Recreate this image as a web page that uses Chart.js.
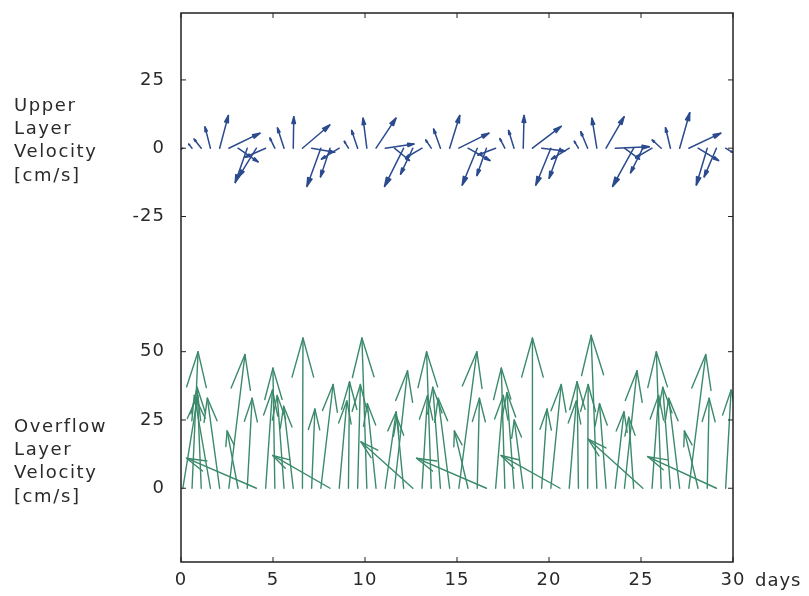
<!DOCTYPE html>
<html>
<head>
<meta charset="utf-8">
<script src="https://cdn.jsdelivr.net/npm/chart.js@4.4.0/dist/chart.umd.min.js"></script>
<style>
  html, body { margin: 0; padding: 0; background: #fff; }
</style>
</head>
<body>
<canvas id="myChart" width="809" height="596"></canvas>
<script>
// sample times (days), one every half day
var days = [
  0.1, 0.6, 1.1, 1.6, 2.1, 2.6, 3.1, 3.6, 4.1, 4.6,
  5.1, 5.6, 6.1, 6.6, 7.1, 7.6, 8.1, 8.6, 9.1, 9.6,
  10.1, 10.6, 11.1, 11.6, 12.1, 12.6, 13.1, 13.6, 14.1, 14.6,
  15.1, 15.6, 16.1, 16.6, 17.1, 17.6, 18.1, 18.6, 19.1, 19.6,
  20.1, 20.6, 21.1, 21.6, 22.1, 22.6, 23.1, 23.6, 24.1, 24.6,
  25.1, 25.6, 26.1, 26.6, 27.1, 27.6, 28.1, 28.6, 29.1, 29.6
];

// upper layer velocity components, cm/s
var upperU = [
  -2.5, -1.2, -2.6, -2.0, 3.2, 11.4, 7.3, -4.4, -6.5, -7.5,
  -1.8, -2.4, 0.2, 10.0, 8.4, -5.1, -3.5, -6.5, -1.5, -2.2,
  -1.4, 7.3, 10.5, 5.5, -7.0, -4.5, -6.0, -2.0, -2.5, 3.7,
  11.0, 8.0, -5.5, -3.5, -6.5, -1.8, -2.0, 0.3, 10.5, 8.5,
  -5.5, -4.0, -6.5, -1.5, -2.5, -1.8, 6.6, 12.5, 5.5, -7.7,
  -4.5, -6.0, -3.3, -1.8, 3.7, 11.7, 7.5, -4.0, -4.5, 2.5
];
var upperV = [
  -1.5, 1.5, 3.3, 7.8, 12.0, 5.5, -5.0, -12.6, -10.5, -3.3,
  3.7, 7.4, 11.5, 8.5, -1.5, -14.0, -10.5, -4.0, 2.5, 6.5,
  11.0, 11.0, 1.5, -4.5, -14.0, -9.5, -3.5, 3.0, 7.0, 12.0,
  5.5, -4.5, -13.5, -10.0, -2.5, 3.5, 6.5, 12.0, 8.0, -1.0,
  -13.5, -11.0, -4.0, 2.5, 6.0, 11.0, 11.5, 0.5, -4.0, -14.0,
  -9.0, -3.5, 3.0, 7.5, 13.0, 5.5, -4.5, -13.5, -10.5, -1.5
];

// overflow layer velocity components, cm/s
var lowerU = [
  5.5, 2.2, -1.5, -5.9, -4.5, 5.9, -4.0, 1.8, -25.6, 2.5,
  -0.7, -2.5, -3.5, 0.2, 1.2, 4.5, -21.0, 2.8, 0.4, 1.0,
  -1.8, -3.2, 4.0, 4.8, -2.5, -19.0, 2.0, -1.7, -2.8, -4.2,
  6.6, -5.0, 0.8, -25.6, 2.8, -1.3, -2.6, -3.3, 0.0, 2.0,
  3.8, -21.6, 2.6, -0.5, 0.2, -2.1, -2.4, 3.2, 4.6, -1.8,
  -20.0, 2.4, -1.8, -2.8, -4.0, 6.2, -5.0, 0.7, -25.2, 2.0
];
var lowerV = [
  34, 50, 37, 34, 33, 49, 21, 33, 11, 36,
  44, 34, 30, 55, 29, 38, 12, 32, 39, 38,
  55, 31, 28, 43, 26, 17, 34, 50, 37, 33,
  50, 21, 33, 11, 34, 44, 35, 25, 55, 29,
  38, 12, 32, 39, 38, 56, 31, 28, 43, 26,
  18, 34, 50, 37, 33, 49, 21, 33, 11.6, 36
];

var xTicks = [0, 5, 10, 15, 20, 25, 30];
var lowerTicks = [0, 25, 50];
var upperTicks = [-25, 0, 25];
var upperTitle = ["Upper", "Layer", "Velocity", "[cm/s]"];
var lowerTitle = ["Overflow", "Layer", "Velocity", "[cm/s]"];
var xUnit = "days";

// the upper panel's zero sits this far up the shared y axis
var UPPER_ZERO = 124.5;

var textColor = "#2a2a2a";
var font = "DejaVu Sans";

function basePoints(zero) {
  return days.map(function (t) { return { x: t, y: zero }; });
}

var stickPlugin = {
  id: "sticks",
  beforeDraw: function (chart) {
    chart.ctx.letterSpacing = "1px";
  },
  afterDatasetsDraw: function (chart) {
    var ctx = chart.ctx, xs = chart.scales.x, ys = chart.scales.y, area = chart.chartArea;
    var unitPx = Math.abs(ys.getPixelForValue(1) - ys.getPixelForValue(0));
    ctx.save();
    ctx.beginPath();
    ctx.rect(area.left, area.top, area.right - area.left, area.bottom - area.top);
    ctx.clip();
    chart.data.datasets.forEach(function (ds) {
      ctx.strokeStyle = ds.stickColor;
      ctx.fillStyle = ds.stickColor;
      ctx.lineWidth = ds.stickWidth;
      ctx.lineCap = "round";
      ctx.lineJoin = "round";
      ds.data.forEach(function (p, i) {
        var bx = xs.getPixelForValue(p.x);
        var by = ys.getPixelForValue(p.y);
        var tx = bx + ds.u[i] * unitPx;
        var ty = ys.getPixelForValue(p.y + ds.v[i]);
        var len = Math.hypot(tx - bx, ty - by);
        var a = Math.atan2(ty - by, tx - bx);
        var h = len * ds.headFrac, th = ds.headAngle;
        ctx.beginPath();
        ctx.moveTo(bx, by);
        ctx.lineTo(tx, ty);
        ctx.stroke();
        ctx.beginPath();
        ctx.moveTo(tx - h * Math.cos(a - th), ty - h * Math.sin(a - th));
        ctx.lineTo(tx, ty);
        ctx.lineTo(tx - h * Math.cos(a + th), ty - h * Math.sin(a + th));
        if (ds.fillHead) { ctx.closePath(); ctx.fill(); }
        ctx.stroke();
      });
    });
    ctx.restore();
  },
  afterDraw: function (chart) {
    var ctx = chart.ctx, xs = chart.scales.x, ys = chart.scales.y, area = chart.chartArea;
    ctx.save();
    ctx.strokeStyle = "#222";
    ctx.lineWidth = 1.5;
    ctx.strokeRect(area.left, area.top, area.right - area.left, area.bottom - area.top);
    ctx.lineWidth = 1;
    ctx.beginPath();
    xTicks.forEach(function (t) {
      var px = xs.getPixelForValue(t);
      ctx.moveTo(px, area.bottom); ctx.lineTo(px, area.bottom - 5);
      ctx.moveTo(px, area.top); ctx.lineTo(px, area.top + 5);
    });
    ys.ticks.forEach(function (tk) {
      var py = ys.getPixelForValue(tk.value);
      ctx.moveTo(area.left, py); ctx.lineTo(area.left + 5, py);
      ctx.moveTo(area.right, py); ctx.lineTo(area.right - 5, py);
    });
    ctx.stroke();

    ctx.fillStyle = textColor;
    ctx.font = "18px '" + font + "'";
    ctx.letterSpacing = "1.6px";
    ctx.textBaseline = "middle";
    ctx.textAlign = "left";
    upperTitle.forEach(function (s, i) { ctx.fillText(s, 14, 106 + i * 23.3); });
    lowerTitle.forEach(function (s, i) { ctx.fillText(s, 14, 427 + i * 23.3); });
    ctx.letterSpacing = "1px";
    ctx.fillText(xUnit, xs.getPixelForValue(30) + 22, 581);
    ctx.restore();
  }
};

new Chart("myChart", {
  type: "scatter",
  data: {
    datasets: [
      {
        label: "Upper Layer Velocity",
        data: basePoints(UPPER_ZERO),
        u: upperU, v: upperV,
        stickColor: "#2b4b8e", stickWidth: 1.5,
        headFrac: 0.22, headAngle: 0.26, fillHead: true,
        pointRadius: 0, showLine: false
      },
      {
        label: "Overflow Layer Velocity",
        data: basePoints(0),
        u: lowerU, v: lowerV,
        stickColor: "#3b8a6c", stickWidth: 1.4,
        headFrac: 0.27, headAngle: 0.27, fillHead: false,
        pointRadius: 0, showLine: false
      }
    ]
  },
  options: {
    responsive: false,
    devicePixelRatio: 1,
    animation: false,
    layout: { padding: { left: 0, right: 76, top: 13, bottom: 0 } },
    plugins: { legend: { display: false }, tooltip: { enabled: false } },
    scales: {
      x: {
        type: "linear", min: 0, max: 30,
        grid: { display: false, drawTicks: true, tickLength: 8 },
        border: { display: false },
        afterBuildTicks: function (scale) {
          scale.ticks = xTicks.map(function (v) { return { value: v }; });
        },
        afterFit: function (scale) { scale.height = 34; },
        ticks: {
          color: textColor, padding: 0, maxRotation: 0, autoSkip: false,
          font: { family: font, size: 18 }
        }
      },
      y: {
        type: "linear", min: -27, max: 174,
        grid: { display: false, drawTicks: true, tickLength: 16 },
        border: { display: false },
        afterBuildTicks: function (scale) {
          scale.ticks = lowerTicks.map(function (v) { return { value: v }; })
            .concat(upperTicks.map(function (v) { return { value: v + UPPER_ZERO }; }));
        },
        afterFit: function (scale) { scale.width = 181; },
        ticks: {
          color: textColor, padding: 0, autoSkip: false,
          font: { family: font, size: 18 },
          callback: function (value) {
            if (value > 75) return String(Math.round(value - UPPER_ZERO));
            return String(value);
          }
        }
      }
    }
  },
  plugins: [stickPlugin]
});
</script>
</body>
</html>
